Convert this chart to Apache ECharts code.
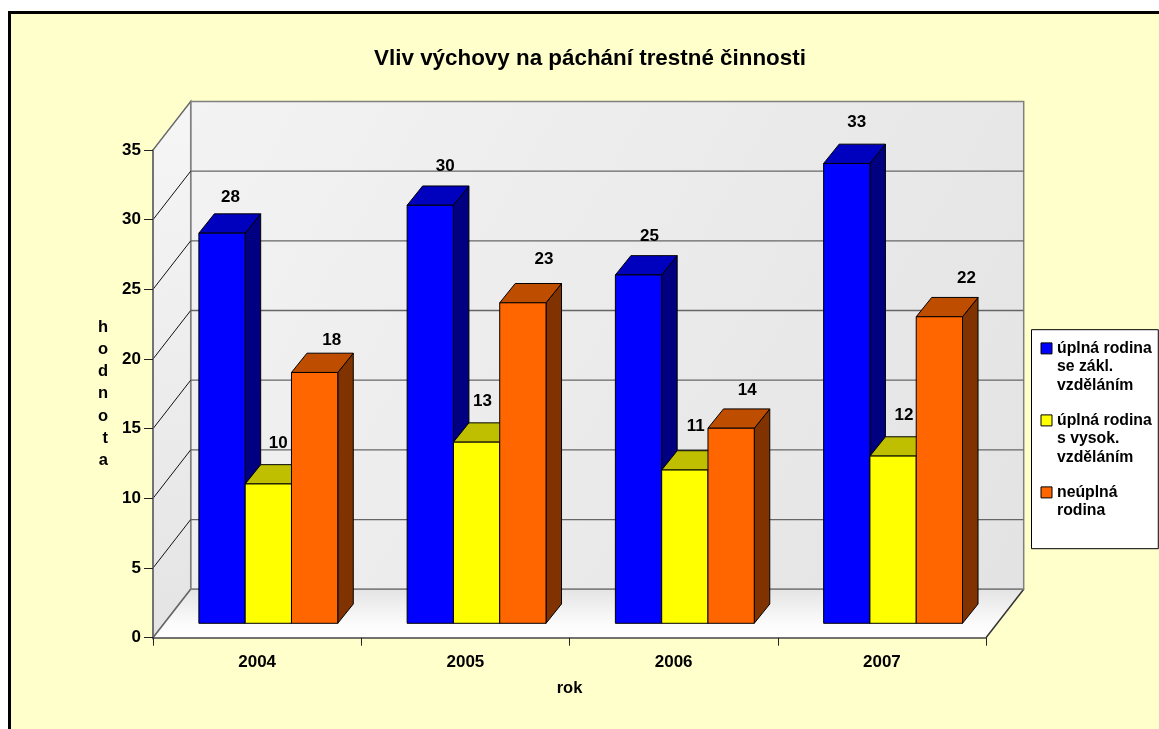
<!DOCTYPE html>
<html><head><meta charset="utf-8">
<style>html,body{margin:0;padding:0;background:#fff;overflow:hidden}#c{width:1159px;height:729px}</style>
<script src="https://cdn.jsdelivr.net/npm/echarts@6/dist/echarts.min.js"></script>
</head><body><div id="c"></div>
<script>
const titleText = 'Vliv výchovy na páchání trestné činnosti';
const years = ['2004', '2005', '2006', '2007'];
const valueTicks = [0, 5, 10, 15, 20, 25, 30, 35];
const seriesNames = ['úplná rodina\nse zákl.\nvzděláním', 'úplná rodina\ns vysok.\nvzděláním', 'neúplná\nrodina'];
const fullFamilyBasic = [28, 30, 25, 33];
const fullFamilyHigher = [10, 13, 11, 12];
const incompleteFamily = [18, 23, 14, 22];
const seriesValues = [fullFamilyBasic, fullFamilyHigher, incompleteFamily];

const faceColors = [
  {front: '#0000FF', top: '#0000BF', side: '#000080'},
  {front: '#FFFF00', top: '#BFBF00', side: '#808000'},
  {front: '#FF6600', top: '#BF4D00', side: '#803300'}
];
// label nudges from the top-centre of each bar (px), per series and year
const labelNudge = [
  [[8.5, -36], [15, -39], [11, -39], [10, -41]],
  [[10, -41], [6, -41], [11, -44], [11, -41]],
  [[17, -32], [21, -43], [16, -38], [27, -38]]
];
const WALL_DX = 37.7, WALL_DY = -48.5;   // wall depth
const PLANE_DX = 11.2, PLANE_DY = -14.4; // front plane of the bars
const BAR_W = 46.3, BAR_DX = 15.5, BAR_DY = -19.3;

const font = 'Liberation Sans, Arial, sans-serif';
const chart = echarts.init(document.getElementById('c'));

function poly(points, fill, stroke, lw) {
  return {type: 'polygon', shape: {points}, style: {fill, stroke: stroke || null, lineWidth: lw || 0}};
}
function line(x1, y1, x2, y2, stroke, lw) {
  return {type: 'line', shape: {x1, y1, x2, y2}, style: {stroke, lineWidth: lw}};
}
function grad(x, y, x2, y2, a, b) {
  return new echarts.graphic.LinearGradient(x, y, x2, y2, [{offset: 0, color: a}, {offset: 1, color: b}]);
}

function renderWalls(params, api) {
  const band = api.size([1, 0])[0];
  const x0 = api.coord([0, 0])[0] - band / 2;
  const x1 = x0 + band * years.length;
  const y0 = api.coord([0, valueTicks[0]])[1];
  const yTop = api.coord([0, valueTicks[valueTicks.length - 1]])[1];
  const dx = WALL_DX, dy = WALL_DY;
  const floorFill = new echarts.graphic.LinearGradient(0, 1, 0, 0, [
    {offset: 0, color: '#FFFFFF'}, {offset: 0.3, color: '#FBFBFB'}, {offset: 1, color: '#E4E4E4'}
  ]);
  const kids = [
    poly([[x0 + dx, yTop + dy], [x1 + dx, yTop + dy], [x1 + dx, y0 + dy], [x0 + dx, y0 + dy]],
      grad(0, 0, 1, 1, '#F3F3F3', '#E3E3E3'), '#808080', 1.5),
    poly([[x0, y0], [x0, yTop], [x0 + dx, yTop + dy], [x0 + dx, y0 + dy]],
      grad(0, 0, 1, 1, '#F6F6F6', '#E4E4E4'), '#808080', 1.5),
    poly([[x0, y0], [x1, y0], [x1 + dx, y0 + dy], [x0 + dx, y0 + dy]], floorFill, null, 0),
    line(x0, y0, x0 + dx, y0 + dy, '#666666', 1.5),
    line(x1, y0, x1 + dx, y0 + dy, '#333333', 1.5),
    line(x0 + dx, y0 + dy, x1 + dx, y0 + dy, '#808080', 1.5)
  ];
  valueTicks.slice(1, -1).forEach(v => {
    const y = api.coord([0, v])[1];
    kids.push(line(x0, y, x0 + dx, y + dy, '#111111', 1));
    kids.push(line(x0 + dx, y + dy, x1 + dx, y + dy, '#666666', 1.3));
  });
  kids.push(line(x0, yTop, x0 + dx, yTop + dy, '#666666', 1));
  return {type: 'group', children: kids};
}

function makeBars(si) {
  return function (params, api) {
    const cat = api.value(0), val = api.value(1);
    const p = api.coord([cat, val]);
    const base = api.coord([cat, 0])[1] + PLANE_DY;
    const n = seriesValues.length;
    const left = p[0] + PLANE_DX + (si - n / 2) * BAR_W;
    const right = left + BAR_W;
    const top = p[1] + PLANE_DY;
    const c = faceColors[si];
    const ln = '#000000';
    const nudge = labelNudge[si][params.dataIndex];
    return {type: 'group', children: [
      poly([[right, top], [right + BAR_DX, top + BAR_DY], [right + BAR_DX, base + BAR_DY], [right, base]], c.side, ln, 1),
      poly([[left, top], [left + BAR_DX, top + BAR_DY], [right + BAR_DX, top + BAR_DY], [right, top]], c.top, ln, 1),
      poly([[left, top], [right, top], [right, base], [left, base]], c.front, ln, 1),
      {type: 'text', style: {
        text: String(val), x: left + BAR_W / 2 + nudge[0], y: top + nudge[1],
        fill: '#000', font: 'bold 17px ' + font, align: 'center', verticalAlign: 'middle'
      }}
    ]};
  };
}

const barSeries = seriesNames.map((name, si) => ({
  type: 'custom', name, z: 3, coordinateSystem: 'cartesian2d',
  itemStyle: {color: faceColors[si].front},
  renderItem: makeBars(si), clip: false,
  encode: {x: 0, y: 1},
  data: seriesValues[si].map((v, i) => [i, v])
}));

function legendIcon(t) {
  return 'path://M0 0L0 0M11 ' + t + 'L0 ' + t + 'L0 ' + (t + 11) + 'L11 ' + (t + 11) + 'Z M0 55.5L0 55.5';
}

chart.setOption({
  animation: false,
  backgroundColor: '#FFFFFF',
  textStyle: {fontFamily: font},
  graphic: [{
    type: 'rect', z: -10, silent: true,
    shape: {x: 9.5, y: 12.5, width: 1170, height: 740},
    style: {fill: '#FFFFCC', stroke: '#000000', lineWidth: 3}
  }],
  title: {
    text: titleText, left: 585, top: 43, textAlign: 'center',
    textStyle: {fontFamily: font, fontWeight: 'bold', fontSize: 22.4, color: '#000'}
  },
  grid: {left: 153, top: 150, width: 833, height: 487.7},
  legend: {
    orient: 'vertical', left: 1031.5, top: 329.7,
    padding: [9, 6.5, 9.5, 9], itemGap: 15.5, itemWidth: 11, itemHeight: 55.5,
    backgroundColor: '#FFFFFF', borderColor: '#000000', borderWidth: 1, borderRadius: 0,
    selectedMode: false, z: 6,
    textStyle: {fontFamily: font, fontWeight: 'bold', fontSize: 15.8, lineHeight: 18.5, color: '#000'},
    formatter: n => n.split('\n').length < 3 ? n + '\n ' : n,
    data: seriesNames.map((name, si) => ({
      name, icon: legendIcon(3.7),
      itemStyle: {color: faceColors[si].front, borderColor: '#000000', borderWidth: 1}
    }))
  },
  xAxis: {
    type: 'category', data: years, z: 5,
    name: 'rok', nameLocation: 'middle', nameGap: 42,
    nameTextStyle: {fontFamily: font, fontWeight: 'bold', fontSize: 16.5, color: '#000'},
    axisLine: {onZero: false, lineStyle: {color: '#444444', width: 1.5}},
    axisTick: {show: true, alignWithLabel: false, length: 8, lineStyle: {color: '#222222', width: 1}},
    axisLabel: {margin: 16, color: '#000', fontFamily: font, fontWeight: 'bold', fontSize: 17},
    splitLine: {show: false}
  },
  yAxis: {
    type: 'value', min: 0, max: 35, interval: 5, z: 5,
    name: 'h\no\nd\nn\no\nt\na', nameLocation: 'middle', nameGap: 45, nameRotate: 0,
    nameTextStyle: {fontFamily: font, fontWeight: 'bold', fontSize: 16.5, lineHeight: 22.2, color: '#000'},
    axisLine: {show: true, lineStyle: {color: '#666666', width: 1.5}},
    axisTick: {show: true, length: 9, lineStyle: {color: '#222222', width: 1}},
    axisLabel: {margin: 12, color: '#000', fontFamily: font, fontWeight: 'bold', fontSize: 17,
      formatter: v => String(v)},
    splitLine: {show: false}
  },
  series: [{
    type: 'custom', name: 'walls', z: 1, silent: true, clip: false,
    coordinateSystem: 'cartesian2d', renderItem: renderWalls,
    encode: {x: 0, y: 1}, data: [[0, 0]]
  }].concat(barSeries)
});
</script></body></html>
